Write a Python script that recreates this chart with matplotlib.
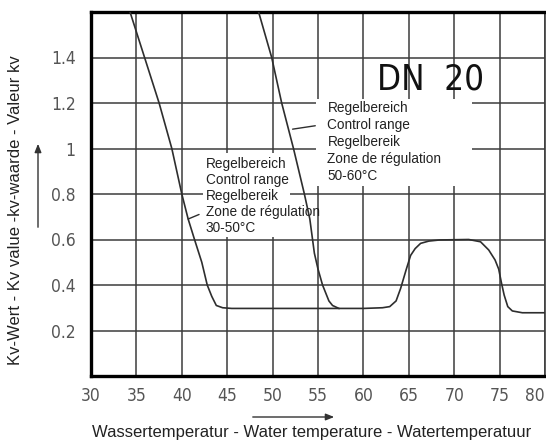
'''
Kv value versus water temperature, DN 20
'''
import matplotlib
matplotlib.use("Agg")
from matplotlib import pyplot as plt
from matplotlib import font_manager
from matplotlib.patches import Rectangle, FancyArrowPatch

# Curve: control range 30-50 °C, continued over the full span
temp_main = [34.3, 35.9, 37.5, 38.9, 40.0, 40.7, 41.4, 42.2, 42.8, 43.3, 43.8, 44.5,
             45.5, 50.0, 55.0, 60.0, 62.1, 62.9, 63.6, 64.1, 64.7, 65.2, 65.7, 66.3,
             67.2, 68.4, 71.6, 72.9, 73.8, 74.5, 74.9, 75.2, 75.5, 75.9, 76.4, 77.5, 80.0]
kv_main = [1.6, 1.4, 1.2, 1.0, 0.8, 0.69, 0.6, 0.5, 0.4, 0.35, 0.31, 0.30,
           0.297, 0.297, 0.297, 0.297, 0.30, 0.305, 0.33, 0.385, 0.466, 0.53, 0.56, 0.583,
           0.593, 0.598, 0.6, 0.59, 0.554, 0.51, 0.47, 0.41, 0.356, 0.305, 0.286, 0.278, 0.278]

# Curve for control range 50-60 °C, merging into the flat part
temp_hi = [48.46, 49.9, 51.0, 52.3, 53.5, 54.1, 54.4, 54.6, 55.0, 55.5, 56.2, 56.6, 57.3]
kv_hi = [1.6, 1.4, 1.2, 1.0, 0.8, 0.69, 0.6, 0.54, 0.47, 0.4, 0.33, 0.31, 0.297]

x_ticks = [30, 35, 40, 45, 50, 55, 60, 65, 70, 75, 80]
y_ticks = [0.2, 0.4, 0.6, 0.8, 1.0, 1.2, 1.4]
y_tick_labels = ["0.2", "0.4", "0.6", "0.8", "1", "1.2", "1.4"]

label_lines = ["Regelbereich", "Control range", "Regelbereik", "Zone de régulation"]
range_low = "30-50°C"
range_high = "50-60°C"

FONT = ["Liberation Sans", "DejaVu Sans"]
LINE_COL = "#2e2e2e"
GRID_COL = "#3c3c3c"


def narrow_props(size):
    '''Font properties for the narrow drawing font'''
    try:
        font_manager.findfont(font_manager.FontProperties(family="Liberation Sans Narrow"),
                              fallback_to_default=False)
        return font_manager.FontProperties(family="Liberation Sans Narrow", size=size)
    except Exception:
        return font_manager.FontProperties(family="DejaVu Sans", stretch="condensed",
                                           size=size)


fig = plt.figure(figsize=(5.46, 4.41), dpi=100)
ax = fig.add_axes([91 / 546, 65 / 441, 454 / 546, 364 / 441])

ax.set_xlim(30, 80)
ax.set_ylim(0, 1.6)
ax.set_xticks(x_ticks)
ax.set_yticks(y_ticks + [1.6])
ax.set_yticklabels(y_tick_labels + [""])
ax.tick_params(length=0, labelcolor="#555555")
ax.tick_params(axis="x", pad=8)
ax.tick_params(axis="y", pad=11)
tick_font = narrow_props(12.5)
for lbl in ax.get_xticklabels() + ax.get_yticklabels():
    lbl.set_fontproperties(tick_font)
ax.get_xticklabels()[-1].set_horizontalalignment("right")

ax.grid(True, color=GRID_COL, linewidth=1.1)
ax.set_axisbelow(True)
for side in ["left", "bottom", "top"]:
    ax.spines[side].set_linewidth(2.4)
    ax.spines[side].set_color("black")
ax.spines["right"].set_linewidth(1.2)
ax.spines["right"].set_color(GRID_COL)

# White label boxes covering the grid
ax.add_patch(Rectangle((42.31, 0.611), 9.56, 0.369, facecolor="white",
                       edgecolor="none", zorder=1.5))
ax.add_patch(Rectangle((54.80, 0.835), 17.21, 0.381, facecolor="white",
                       edgecolor="none", zorder=1.5))

# Curves
ax.plot(temp_main, kv_main, color=LINE_COL, linewidth=1.2, zorder=3)
ax.plot(temp_hi, kv_hi, color=LINE_COL, linewidth=1.2, zorder=3)

# Labels for the two control ranges
text_low = "\n".join(label_lines + [range_low])
text_high = "\n".join(label_lines + [range_high])
ax.text(42.64, 0.962, text_low, ha="left", va="top", fontsize=9.8,
        family=FONT, color="#222222", linespacing=1.17, zorder=2)
ax.text(56.04, 1.210, text_high, ha="left", va="top", fontsize=9.8,
        family=FONT, color="#222222", linespacing=1.27, zorder=2)

# Leader lines
ax.annotate("", xy=(40.7, 0.69), xytext=(41.9, 0.71),
            arrowprops=dict(arrowstyle="-", color=LINE_COL, lw=1.0,
                            shrinkA=0, shrinkB=0), zorder=3)
ax.annotate("", xy=(52.2, 1.085), xytext=(54.7, 1.10),
            arrowprops=dict(arrowstyle="-", color=LINE_COL, lw=1.0,
                            shrinkA=0, shrinkB=0), zorder=3)

ax.text(67.36, 1.303, "DN  20", ha="center", va="center",
        fontproperties=narrow_props(25), color="#111111", zorder=2)

# Axis titles with direction arrows
fig.text(312 / 546, 1 - 432 / 441,
         "Wassertemperatur - Water temperature - Watertemperatuur",
         ha="center", va="center", fontsize=12, family=FONT, color="#222222")
fig.text(16 / 546, 1 - 210 / 441, "Kv-Wert - Kv value -kv-waarde - Valeur kv",
         ha="center", va="center", rotation=90, fontsize=12, family=FONT,
         color="#222222")

fig.add_artist(FancyArrowPatch(
    (250 / 546, 1 - 417 / 441), (337 / 546, 1 - 417 / 441),
    transform=fig.transFigure, arrowstyle="-|>,head_length=5,head_width=2",
    color="#333333", lw=1.0, mutation_scale=1))
fig.add_artist(FancyArrowPatch(
    (38 / 546, 1 - 230 / 441), (38 / 546, 1 - 141 / 441),
    transform=fig.transFigure, arrowstyle="-|>,head_length=5,head_width=2",
    color="#333333", lw=1.0, mutation_scale=1))

fig.savefig("out.png", dpi=100)
